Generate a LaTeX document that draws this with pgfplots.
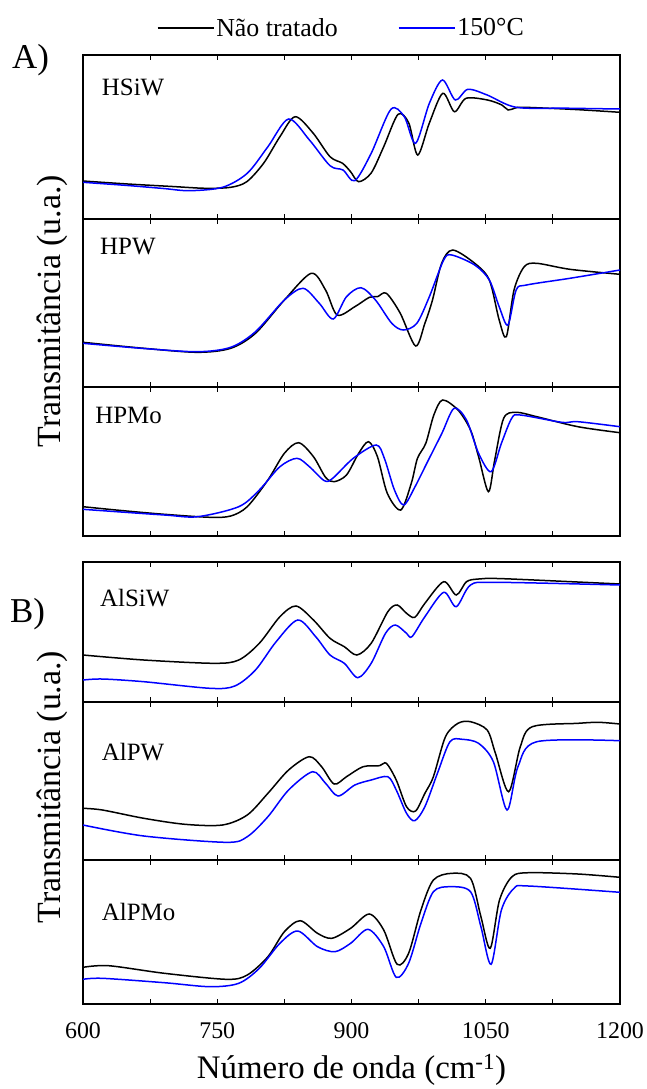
\documentclass[border=0pt]{standalone}
\usepackage{fontspec}
\setmainfont{Liberation Serif}
\usepackage{pgfplots}
\pgfplotsset{compat=1.18}

\tikzset{
  plab/.style={anchor=west, inner sep=0pt, font=\fontsize{25}{25}\selectfont},
  ylab/.style={anchor=center, font=\fontsize{34}{34}\selectfont},
}
\pgfplotsset{
  panel/.style={
    width=537bp, height=#1, scale only axis,
    xmin=600, xmax=1200, y dir=reverse,
    xtick={600,750,900,1050,1200}, minor xtick={675,825,975,1125},
    xtick pos=both, ytick=\empty, tick align=inside,
    major tick length=5bp, minor tick length=5bp,
    every tick/.style={black, line width=1.1bp},
    axis line style={line width=1.3bp},
    xticklabels=\empty,
    /pgf/number format/assume math mode=true,
    tick label style={font=\fontsize{24}{24}\selectfont},
  },
  blk/.style={black, line width=1.5bp, smooth},
  blu/.style={blue, line width=1.5bp, smooth},
}

\begin{document}
\begin{tikzpicture}
\useasboundingbox (0,0) rectangle (647bp,-1089bp);

% ---------------- A1: HSiW ----------------
\begin{axis}[panel=164bp, at={(83bp,-219bp)}, anchor=south west, ymin=55, ymax=219,
  legend columns=2,
  legend style={at={(axis description cs:0.481,1.165)}, anchor=center, draw=none, fill=none,
    font=\fontsize{26}{26}\selectfont,
    /tikz/every even column/.append style={column sep=58bp}},
  legend image code/.code={\draw[#1] (0bp,0bp) -- (56bp,0bp);}]
\addplot[blk] coordinates {(600,181) (650,184) (700,186.5) (737,188.3) (765,187.3) (783,181.7) (802,163) (820,136.7) (837,116.7) (857,133) (876,156.7) (890,163.3) (899,171.7) (908,181.7) (922,173) (936,146.7) (952,114.3) (964,123) (974,155) (987,123) (1002,93.3) (1015,111.7) (1028,98.3) (1052,100) (1068,105) (1075,110) (1083,108) (1093,107.3) (1150,109.5) (1200,112.3)};
\addlegendentry{Não tratado}
\addplot[blu] coordinates {(600,182.3) (650,185.5) (690,188.5) (719,190.7) (756,187.3) (783.5,173.3) (806.6,146.7) (829.7,119) (853,140) (876,165.7) (890.5,170) (903.7,180.7) (922,153.3) (944,109.3) (959,116.7) (971.6,143.3) (987,103.3) (1001.6,80) (1016,100) (1030,89.3) (1051.6,95) (1084,107.3) (1140,108.2) (1200,109)};
\addlegendentry{150°C}
\node[plab] at (axis cs:621,87) {HSiW};
\end{axis}

% ---------------- A2: HPW ----------------
\begin{axis}[panel=168bp, at={(83bp,-387bp)}, anchor=south west, ymin=219, ymax=387,
  ylabel={Transmitância (u.a.)},
  ylabel style={at={(axis description cs:-0.058,0.452)}, ylab}]
\addplot[blk] coordinates {(600,342.3) (668,348.3) (728,352.3) (765,348.3) (792.7,333.3) (825,300) (855,273.3) (871,290) (884,315) (903.7,306.7) (920,297.3) (929,296.7) (939,293.3) (954.5,313.3) (971.6,346) (982,323.3) (990.5,300) (1000.7,263.3) (1013,250) (1037.7,263.3) (1054,280) (1065,320) (1073,336.7) (1081.6,290) (1093,266.7) (1107,263.3) (1144,269.3) (1200,274.3)};
\addplot[blu] coordinates {(600,343.3) (668,348.5) (728,351.7) (765,347.3) (792.7,331.7) (825,300) (846,288.3) (864,303.3) (879.6,319) (894.4,296.7) (910.6,287.7) (926.8,300) (945,323.3) (958,330) (973,323.3) (987,296.7) (1003,260) (1012,255) (1037.7,265) (1054,280) (1065,306.7) (1074.8,325) (1084,290) (1095.5,285) (1144,278.3) (1200,270)};
\node[plab] at (axis cs:619,246.7) {HPW};
\end{axis}

% ---------------- A3: HPMo ----------------
\begin{axis}[panel=149bp, at={(83bp,-536bp)}, anchor=south west, ymin=387, ymax=536]
\addplot[blk] coordinates {(600,506.7) (645,510.7) (691,514.3) (742,517.3) (765,516) (783.5,506.7) (806.6,480) (825,453.3) (841,442.7) (857.5,456.7) (871,477.3) (880.5,481.7) (894.4,475) (908,453.3) (919,441.7) (929,456.7) (940,493.3) (955,510) (966.8,483.3) (973.7,458.3) (983,443.3) (992,415) (1001.7,400) (1019,410) (1033,430) (1042,456.7) (1053,491.7) (1060,460) (1070,418.3) (1084,412.3) (1107,416.7) (1153,426.7) (1200,432.7)};
\addplot[blu] coordinates {(600,509.3) (691,515) (728,516.7) (774,506.7) (797,490) (820,466.7) (839,458.3) (853,466.7) (869.7,480.7) (879,478.3) (902,458.3) (927.5,445) (936.7,458.3) (948,490) (958.4,505) (971,486.7) (985,461.7) (1001,433.3) (1014.6,408.3) (1028.5,420) (1042,453.3) (1056,471.7) (1067.5,443.3) (1079,418.3) (1088.6,415) (1135,422.3) (1153,421.7) (1200,426.7)};
\node[plab] at (axis cs:613.5,415) {HPMo};
\end{axis}

% ---------------- B1: AlSiW ----------------
\begin{axis}[panel=140bp, at={(83bp,-702bp)}, anchor=south west, ymin=562, ymax=702]
\addplot[blk] coordinates {(600,655) (668,660) (746.5,663.3) (774,660) (797,643.3) (820,616.7) (838,606) (857.5,620) (876,638.3) (892,646.7) (906,655) (922,643.3) (940.6,611.7) (951,605) (961.5,613.3) (970.7,617.3) (982,603.3) (1003,581.7) (1017,595) (1028.5,581.7) (1042,579) (1070,578.7) (1200,584)};
\addplot[blu] coordinates {(600,680) (621.7,679) (668,681.7) (742,688.3) (769.6,686) (792.7,670) (815.8,641.7) (840,620) (860,636.7) (876,655) (892,663.3) (907,677.7) (922,663.3) (938,633.3) (949,625) (961.5,633.3) (967.5,636.7) (982,616.7) (1003,592.3) (1017,606.7) (1033,585) (1060.8,582.3) (1200,585)};
\node[plab] at (axis cs:619,598) {AlSiW};
\end{axis}

% ---------------- B2: AlPW ----------------
\begin{axis}[panel=158bp, at={(83bp,-860bp)}, anchor=south west, ymin=702, ymax=860,
  ylabel={Transmitância (u.a.)},
  ylabel style={at={(axis description cs:-0.058,0.462)}, ylab}]
\addplot[blk] coordinates {(600,808.3) (621.7,810) (668,818.3) (714,824.3) (755.8,825) (783.5,815) (806.6,793.3) (829.7,770) (852.8,756.7) (866.6,766.7) (880.6,784) (894.4,776.7) (912.9,766.7) (931.4,765.7) (939,763.3) (950,780) (961.5,806.7) (971.6,811) (982,793.3) (991.5,776.7) (1005,736.7) (1019,723.3) (1033,721.7) (1051.6,730) (1060.8,753.3) (1075.6,791.7) (1088.6,746.7) (1102,726.7) (1153,723.3) (1176,722.3) (1200,724)};
\addplot[blu] coordinates {(600,825) (668,836) (760,842.3) (783.5,836.7) (806.6,816.7) (829.7,790) (856.5,771.7) (871,783.3) (885,796) (903.7,785) (922,780) (940.6,776.7) (950,790) (961.5,813.3) (970.7,820.7) (982,806.7) (996,773.3) (1010,741.7) (1023.8,739.3) (1042,743.3) (1058.5,761.7) (1073.8,810) (1086,766.7) (1107,741.7) (1200,740.7)};
\node[plab] at (axis cs:621,751.7) {AlPW};
\end{axis}

% ---------------- B3: AlPMo ----------------
\begin{axis}[panel=144bp, at={(83bp,-1004bp)}, anchor=south west, ymin=860, ymax=1004,
  xticklabels={600,750,900,1050,1200},
  xticklabel style={yshift=-15bp},
  xlabel={Número de onda (cm\textsuperscript{-1})},
  xlabel style={at={(axis description cs:0.5,-0.458)}, anchor=center, font=\fontsize{33}{33}\selectfont}]
\addplot[blk] coordinates {(600,967.3) (628.7,965.7) (691,973.3) (760.4,979.3) (783.5,975) (806.6,956.7) (825,931.7) (842.7,920.7) (862,933.3) (878,938.3) (899,928.3) (919.8,914) (936,930) (951,964.3) (963.8,953.3) (977.6,910) (991.5,880) (1012,873.3) (1033,878.3) (1044.6,916.7) (1055,948.3) (1065.4,900) (1079.3,876.7) (1097.8,872.7) (1153,874) (1200,877.3)};
\addplot[blu] coordinates {(600,979.3) (621.7,978.3) (691,982.7) (742,986.7) (774,983.3) (797,968.3) (820,943.3) (840,931) (862,946.7) (881.5,951.7) (899,943.3) (918.5,929.3) (936,946.7) (950,977.3) (963.8,963.3) (977.6,923.3) (991.5,891.7) (1010,886.7) (1033,891.7) (1044.6,926.7) (1056,964.3) (1067.5,910) (1081.6,888.3) (1097.8,886) (1200,892.3)};
\node[plab] at (axis cs:621,911.7) {AlPMo};
\end{axis}

\node[anchor=west, inner sep=0pt, font=\fontsize{35}{35}\selectfont] at (12bp,-60bp) {A)};
\node[anchor=west, inner sep=0pt, font=\fontsize{35}{35}\selectfont] at (10bp,-614bp) {B)};
\end{tikzpicture}
\end{document}
